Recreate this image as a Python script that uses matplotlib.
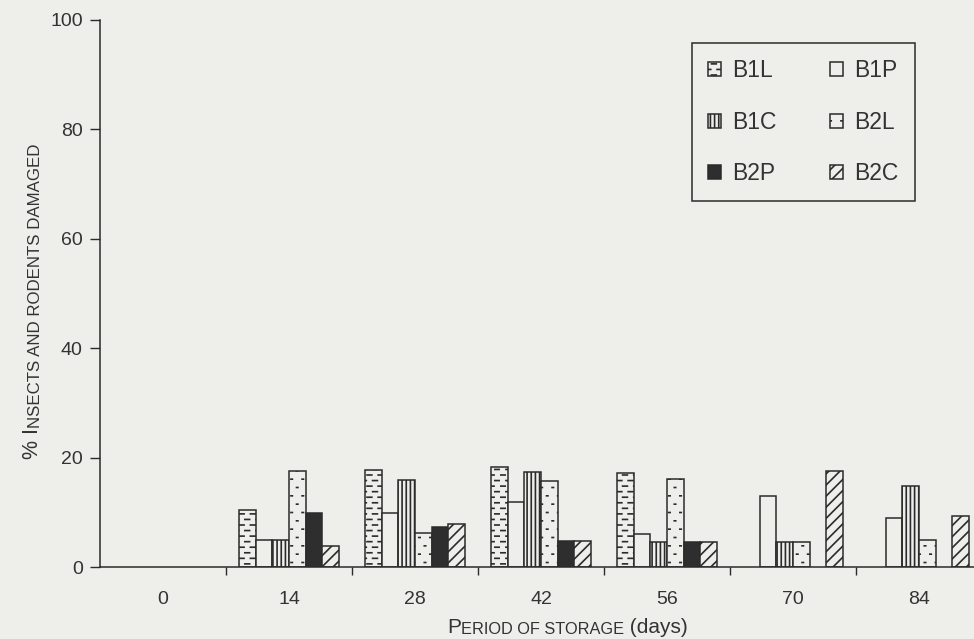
# Stored produce damage by insects and rodents, per storage treatment
import warnings
import numpy as np
import matplotlib
matplotlib.use('Agg')
import matplotlib.pyplot as plt
import matplotlib.hatch as mhatch
from matplotlib.path import Path

warnings.filterwarnings('ignore')

days = ['0', '14', '28', '42', '56', '70', '84']
series = ['B1L', 'B1P', 'B1C', 'B2L', 'B2P', 'B2C']
b1l = [0, 10.5, 17.8, 18.2, 17.2, 0, 0]
b1p = [0, 5.0, 9.9, 11.8, 6.1, 13.0, 8.9]
b1c = [0, 5.0, 15.9, 17.3, 4.6, 4.5, 14.8]
b2l = [0, 17.5, 6.2, 15.8, 16.1, 4.5, 4.9]
b2p = [0, 9.9, 7.3, 4.7, 4.6, 0, 0]
b2c = [0, 3.9, 7.8, 4.7, 4.6, 17.5, 9.3]


class StaggerHatch(mhatch.HatchPatternBase):
    # short staggered marks: 'd' gives dashes, 'p' gives sparse dots
    char = 'd'
    rows = 18
    cols = 9
    half = 0.024

    def __init__(self, hatch, density):
        k = hatch.count(self.char)
        self.num_rows = self.rows * k
        self.num_cols = self.cols * k
        self.num_vertices = self.num_rows * self.num_cols * 2

    def set_vertices_and_codes(self, vertices, codes):
        n, m = self.num_rows, self.num_cols
        i = 0
        for r in range(n):
            y = (r + 0.5) / n
            for k in range(m):
                x = (k + 0.25 + 0.5 * (r % 2)) / m
                vertices[i] = (x - self.half, y)
                vertices[i + 1] = (x + self.half, y)
                codes[i] = Path.MOVETO
                codes[i + 1] = Path.LINETO
                i += 2


class DotHatch(StaggerHatch):
    char = 'p'
    rows = 12
    cols = 9
    half = 0.007


mhatch._hatch_types.append(StaggerHatch)
mhatch._hatch_types.append(DotHatch)

bg = '#eeeeeb'
ink = '#2b2b2b'
txt = '#333333'
plt.rcParams['font.family'] = ['Liberation Sans', 'DejaVu Sans']
plt.rcParams['hatch.linewidth'] = 1.2
plt.rcParams['hatch.color'] = ink

fig = plt.figure(figsize=(9.74, 6.39), dpi=100, facecolor=bg)
ax = fig.add_axes([100 / 974, 1 - 567 / 639, 882 / 974, 547 / 639])
ax.set_facecolor(bg)

values = [b1l, b1p, b1c, b2l, b2p, b2c]
styles = [
    dict(color=bg, hatch='d'),
    dict(color=bg, hatch=None),
    dict(color=bg, hatch='||||'),
    dict(color=bg, hatch='p'),
    dict(color='#2e2e2e', hatch=None),
    dict(color=bg, hatch='///'),
]
x = np.arange(len(days))
w = 0.1325
handles = {}
for j, (name, vals, st) in enumerate(zip(series, values, styles)):
    vals = np.array(vals, dtype=float)
    keep = vals > 0
    bars = ax.bar(x[keep] + (j - 2.5) * w, vals[keep], w, color=st['color'],
                  hatch=st['hatch'], edgecolor=ink, linewidth=1.1, label=name)
    handles[name] = bars

ax.set_xlim(-0.5, 6.5)
ax.set_ylim(0, 100)
for s in ['top', 'right']:
    ax.spines[s].set_visible(False)
for s in ['left', 'bottom']:
    ax.spines[s].set_linewidth(1.1)
    ax.spines[s].set_color(ink)

ax.set_yticks([0, 20, 40, 60, 80, 100])
ax.tick_params(axis='y', length=7, width=1, color=ink, pad=5.5, labelsize=14, labelcolor=txt)
ax.set_xticks(x[:-1] + 0.5)
ax.set_xticklabels([])
ax.tick_params(axis='x', which='major', length=6, width=1, color=ink)
ax.set_xticks(x, minor=True)
ax.set_xticklabels(days, minor=True)
ax.tick_params(axis='x', which='minor', length=0, pad=17, labelsize=14, labelcolor=txt)

# small caps axis titles, built from chained pieces
t1 = fig.text(447 / 974, 1 - 637 / 639, 'P', fontsize=15, color=txt, ha='left', va='bottom')
t2 = ax.annotate('ERIOD OF STORAGE', xy=(1, 0), xycoords=t1, fontsize=11.8,
                 color=txt, ha='left', va='bottom', annotation_clip=False)
ax.annotate(' (days)', xy=(1, 0), xycoords=t2, fontsize=15,
            color=txt, ha='left', va='bottom', annotation_clip=False)

t3 = fig.text(22 / 974, 1 - 459 / 639, '% I', fontsize=15.5, rotation=90,
              color=txt, ha='left', va='bottom')
ax.annotate('NSECTS AND RODENTS DAMAGED', xy=(1, 1), xycoords=t3, fontsize=12.2,
            rotation=90, color=txt, ha='right', va='bottom', annotation_clip=False)

order = ['B1L', 'B1C', 'B2P', 'B1P', 'B2L', 'B2C']
leg = fig.legend([handles[n] for n in order], order, loc='upper left',
                 bbox_to_anchor=(692 / 974, 1 - 43 / 639), borderaxespad=0,
                 ncol=2, fontsize=16.5, handlelength=0.57, handleheight=0.57,
                 handletextpad=0.48, columnspacing=2.35, labelspacing=1.25,
                 borderpad=0.7, fancybox=False, framealpha=1, facecolor=bg,
                 edgecolor=ink)
leg.get_frame().set_linewidth(1.1)
for t in leg.get_texts():
    t.set_color(txt)

fig.savefig('out.png', dpi=100, facecolor=bg)
